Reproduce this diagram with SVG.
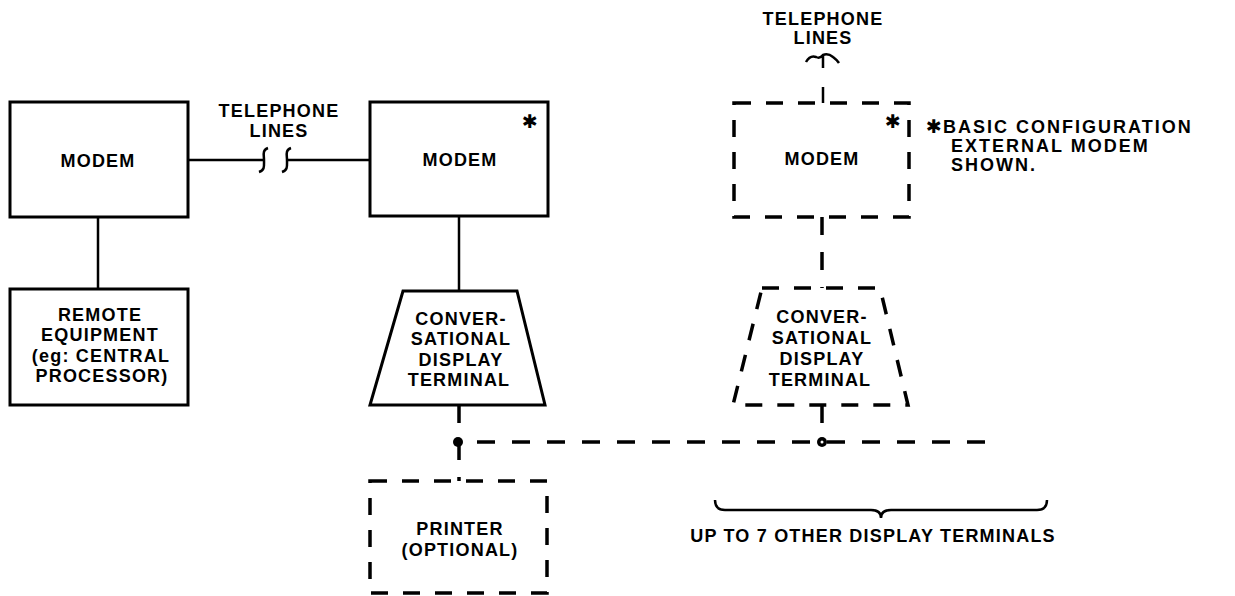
<svg xmlns="http://www.w3.org/2000/svg" width="1235" height="596" viewBox="0 0 1235 596">
<style>
.solid{fill:none;stroke:#000;stroke-width:3;stroke-linejoin:miter}
.dash{fill:none;stroke:#000;stroke-width:3.5;stroke-dasharray:17 15}
.ln{fill:none;stroke:#000;stroke-width:2.5}
.dl{fill:none;stroke:#000;stroke-width:3.5;stroke-dasharray:18 17}
text{font-family:"Liberation Sans",Arial,sans-serif;font-weight:bold;font-size:18px;letter-spacing:1.2px;fill:#000;text-anchor:middle}
.st{text-anchor:start;letter-spacing:2px}
.ast{font-family:"DejaVu Sans",sans-serif;font-size:19px;letter-spacing:0}
</style>
<rect width="1235" height="596" fill="#fff"/>
<g id="connectors">
<path class="ln" d="M188 160 H263"/>
<path class="ln" d="M268 148 C262 150 264 155 264 160 C264 166 265 170 259 172"/>
<path class="ln" d="M291 148 C285 150 287 155 287 160 C287 166 288 170 282 172"/>
<path class="ln" d="M287 160 H370"/>
<path class="ln" d="M98 217 V289"/>
<path class="ln" d="M459 216 V291"/>
<path class="ln" d="M806 62 Q810 55 816 57 Q820 59 823 55 Q828 53 833 57 Q837 60 839 63 M823 56 V68"/>
<path class="ln" d="M823 87 V103"/>
<path class="dl" d="M822 217 V288"/>
<path class="dl" d="M822 405 V442"/>
<path class="dl" d="M459 405 V442"/>
<path class="dl" d="M459 442 V481"/>
<path class="dl" d="M985 442 H459"/>
<circle cx="458" cy="442" r="5" fill="#000"/>
<circle cx="822" cy="442" r="5" fill="#000"/>
<circle cx="822" cy="442" r="1.5" fill="#fff"/>
</g>
<g id="telephone-left">
<text x="279" y="117">TELEPHONE</text>
<text x="279" y="137">LINES</text>
</g>
<g id="telephone-right">
<text x="823" y="25">TELEPHONE</text>
<text x="823" y="44">LINES</text>
</g>
<g id="modem-left">
<rect class="solid" x="10" y="102" width="178" height="115"/>
<text x="98" y="167">MODEM</text>
</g>
<g id="remote-equipment">
<rect class="solid" x="10" y="289" width="178" height="116"/>
<text x="100" y="321">REMOTE</text>
<text x="100" y="341">EQUIPMENT</text>
<text x="101" y="362">(eg: CENTRAL</text>
<text x="102" y="382">PROCESSOR)</text>
</g>
<g id="modem-middle">
<rect class="solid" x="370" y="102" width="178" height="114"/>
<text class="ast" x="530" y="128">✱</text>
<text x="460" y="166">MODEM</text>
</g>
<g id="terminal-middle">
<path class="solid" d="M403 291 H517 L545 405 H370 Z"/>
<text x="461" y="325">CONVER-</text>
<text x="461" y="345">SATIONAL</text>
<text x="461" y="366">DISPLAY</text>
<text x="459" y="386">TERMINAL</text>
</g>
<g id="printer">
<rect class="dash" x="370" y="481" width="177" height="112"/>
<text x="460" y="535">PRINTER</text>
<text x="460" y="556">(OPTIONAL)</text>
</g>
<g id="modem-right">
<rect class="dash" x="734" y="103" width="175" height="114"/>
<text class="ast" x="893" y="128">✱</text>
<text x="822" y="165">MODEM</text>
</g>
<g id="terminal-right">
<path class="dash" d="M762 288 H880 L908 405 H733 Z"/>
<text x="822" y="323">CONVER-</text>
<text x="822" y="344">SATIONAL</text>
<text x="822" y="365">DISPLAY</text>
<text x="820" y="386">TERMINAL</text>
</g>
<g id="footnote">
<text class="ast" x="934" y="133">✱</text>
<text class="st" x="943" y="133">BASIC CONFIGURATION</text>
<text class="st" x="951" y="152">EXTERNAL MODEM</text>
<text class="st" x="951" y="171">SHOWN.</text>
</g>
<g id="others">
<path class="ln" d="M715 500 Q715 510 725 510 H871 Q881 510 881 518 Q881 510 891 510 H1037 Q1047 510 1047 500"/>
<text x="873" y="542">UP TO 7 OTHER DISPLAY TERMINALS</text>
</g>
</svg>
